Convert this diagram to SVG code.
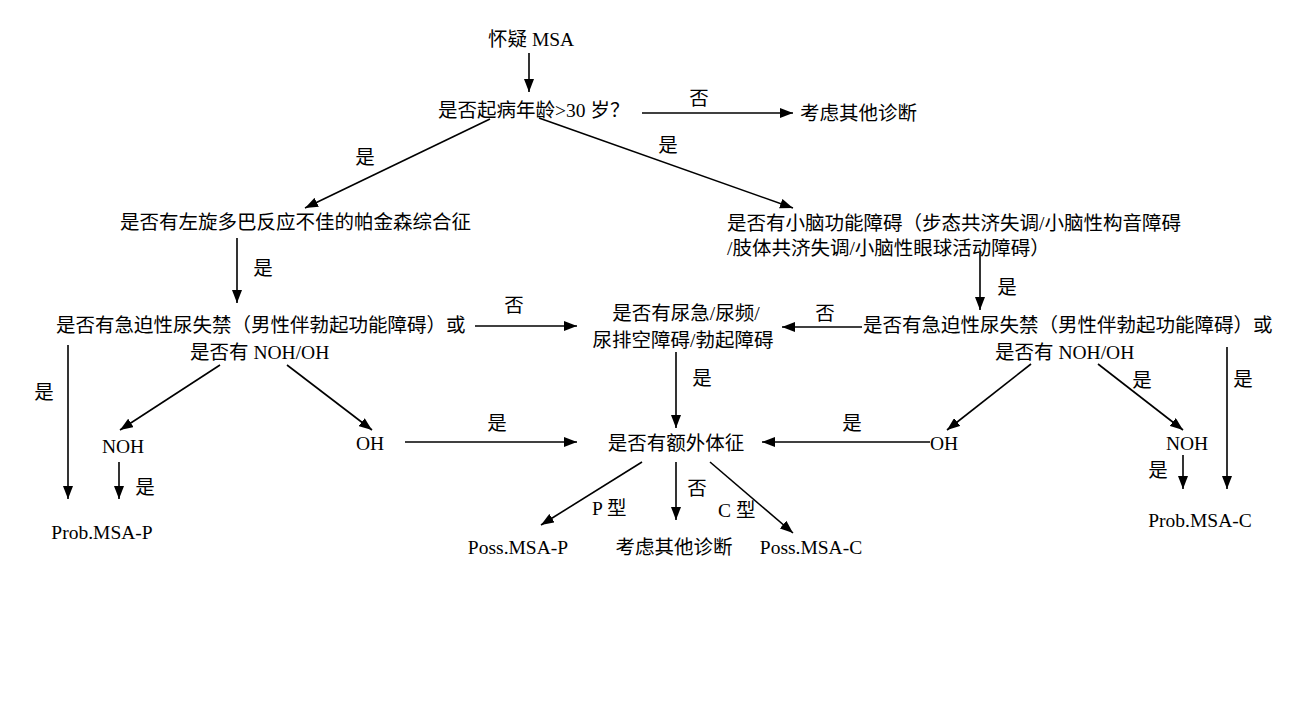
<svg xmlns="http://www.w3.org/2000/svg" width="1310" height="703" viewBox="0 0 1310 703">
<style>
text{font-family:"Liberation Serif","Noto Sans CJK SC",serif;font-size:19.5px;fill:#000}
.l{font-family:"Liberation Serif",serif}
.m{text-anchor:middle}
.c line{stroke:#000;stroke-width:1.6;marker-end:url(#ah)}
</style>
<defs>
<marker id="ah" markerUnits="userSpaceOnUse" markerWidth="13" markerHeight="10" refX="13" refY="5" orient="auto">
<path d="M0,0 L13,5 L0,10 z" fill="#000"/>
</marker>
</defs>
<rect width="1310" height="703" fill="#fff"/>
<g id="connectors" class="c">
<line x1="529" y1="53" x2="529" y2="92"/>
<line x1="642" y1="113" x2="793" y2="113"/>
<line x1="490" y1="119" x2="305" y2="208"/>
<line x1="539" y1="118" x2="793" y2="208"/>
<line x1="237" y1="238" x2="237" y2="303"/>
<line x1="980" y1="253" x2="980" y2="310"/>
<line x1="475" y1="326" x2="577" y2="326"/>
<line x1="862" y1="327" x2="782" y2="327"/>
<line x1="68" y1="345" x2="68" y2="499"/>
<line x1="220" y1="365" x2="120" y2="430"/>
<line x1="287" y1="365" x2="372" y2="430"/>
<line x1="119" y1="462" x2="119" y2="499"/>
<line x1="405" y1="442" x2="577" y2="442"/>
<line x1="676" y1="352" x2="676" y2="428"/>
<line x1="930" y1="442" x2="762" y2="442"/>
<line x1="1031" y1="364" x2="947" y2="430"/>
<line x1="1098" y1="364" x2="1183" y2="430"/>
<line x1="1183" y1="455" x2="1183" y2="489"/>
<line x1="1227" y1="347" x2="1227" y2="489"/>
<line x1="642" y1="462" x2="541" y2="525"/>
<line x1="676" y1="462" x2="676" y2="520"/>
<line x1="710" y1="462" x2="793" y2="533"/>
</g>
<g id="edge-labels">
<text class="m" x="699" y="105">否</text>
<text class="m" x="365" y="164">是</text>
<text class="m" x="668" y="152">是</text>
<text class="m" x="263" y="275">是</text>
<text class="m" x="1007" y="294">是</text>
<text class="m" x="514" y="312">否</text>
<text class="m" x="825" y="320">否</text>
<text class="m" x="44" y="399">是</text>
<text class="m" x="145" y="494">是</text>
<text class="m" x="497" y="430">是</text>
<text class="m" x="702" y="385">是</text>
<text class="m" x="852" y="430">是</text>
<text class="m" x="1142" y="387">是</text>
<text class="m" x="1243" y="386">是</text>
<text class="m" x="1158" y="477">是</text>
<text class="m" x="697" y="495">否</text>
<text x="592" y="515"><tspan class="l">P </tspan>型</text>
<text x="718" y="517"><tspan class="l">C </tspan>型</text>
</g>
<g id="n-start"><text x="488" y="46">怀疑<tspan class="l"> MSA</tspan></text></g>
<g id="n-age"><text x="438" y="117">是否起病年龄<tspan class="l">&gt;30 </tspan>岁？</text></g>
<g id="n-other1"><text x="800" y="120">考虑其他诊断</text></g>
<g id="n-park"><text x="120" y="229">是否有左旋多巴反应不佳的帕金森综合征</text></g>
<g id="n-cereb"><text x="727" y="230">是否有小脑功能障碍（步态共济失调<tspan class="l">/</tspan>小脑性构音障碍</text><text x="727" y="255"><tspan class="l">/</tspan>肢体共济失调<tspan class="l">/</tspan>小脑性眼球活动障碍）</text></g>
<g id="n-uriL"><text x="56" y="332">是否有急迫性尿失禁（男性伴勃起功能障碍）或</text><text x="190" y="359">是否有<tspan class="l"> NOH/OH</tspan></text></g>
<g id="n-uriR"><text x="863" y="332">是否有急迫性尿失禁（男性伴勃起功能障碍）或</text><text x="995" y="359">是否有<tspan class="l"> NOH/OH</tspan></text></g>
<g id="n-uri2"><text class="m" x="686" y="320">是否有尿急<tspan class="l">/</tspan>尿频<tspan class="l">/</tspan></text><text class="m" x="683" y="347">尿排空障碍<tspan class="l">/</tspan>勃起障碍</text></g>
<g id="n-nohL"><text class="m l" x="123" y="453">NOH</text></g>
<g id="n-ohL"><text class="m l" x="370" y="450">OH</text></g>
<g id="n-extra"><text class="m" x="676" y="450">是否有额外体征</text></g>
<g id="n-ohR"><text class="l" x="930" y="450">OH</text></g>
<g id="n-nohR"><text class="m l" x="1187" y="450">NOH</text></g>
<g id="n-probP"><text class="m l" x="102" y="539">Prob.MSA-P</text></g>
<g id="n-probC"><text class="m l" x="1200" y="527">Prob.MSA-C</text></g>
<g id="n-possP"><text class="m l" x="518" y="554">Poss.MSA-P</text></g>
<g id="n-other2"><text class="m" x="674" y="554">考虑其他诊断</text></g>
<g id="n-possC"><text class="m l" x="811" y="554">Poss.MSA-C</text></g>
</svg>
